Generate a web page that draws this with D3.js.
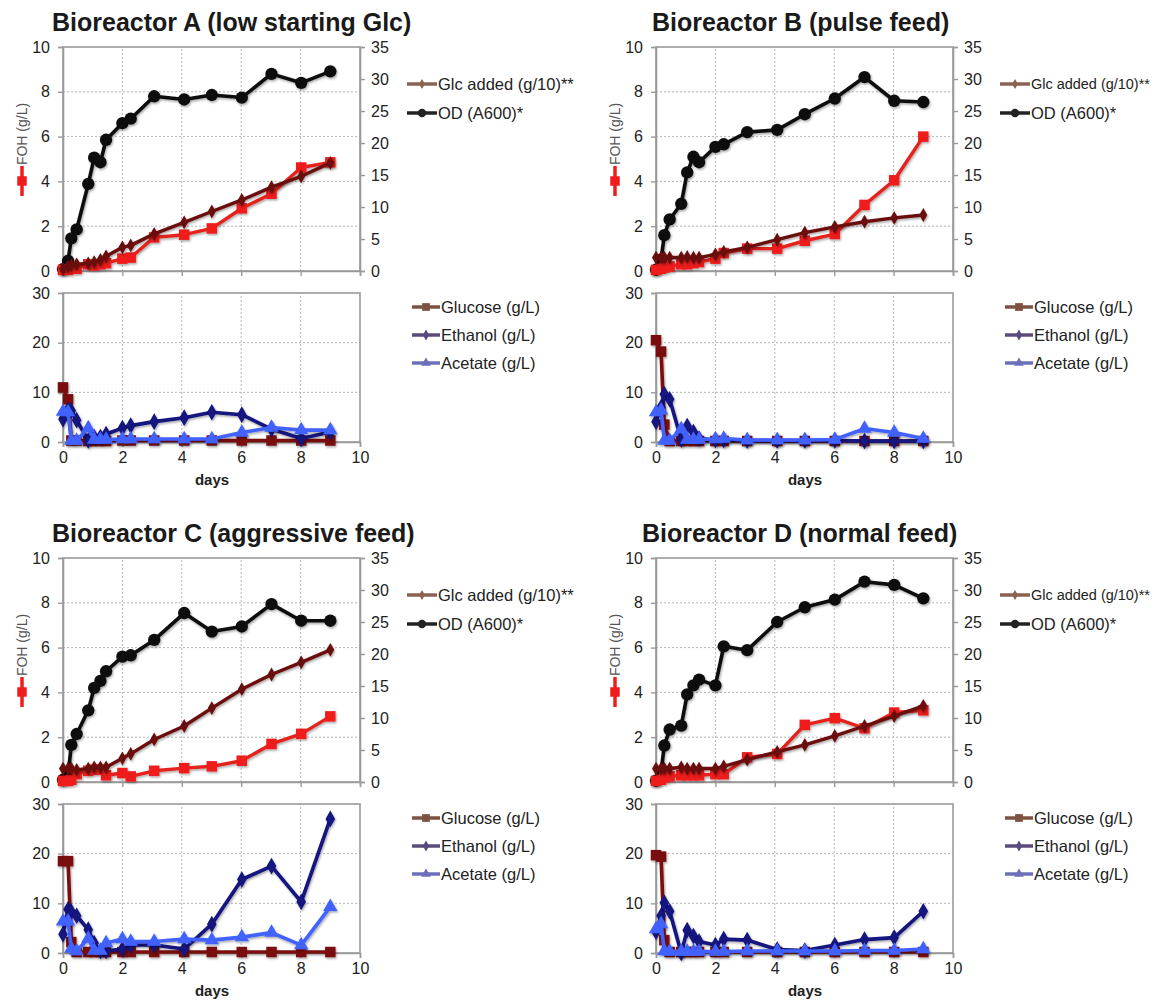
<!DOCTYPE html>
<html><head><meta charset="utf-8">
<script src="https://cdn.jsdelivr.net/npm/d3@7"></script>
<style>
body{margin:0;background:#fff;}
svg{font-family:"Liberation Sans",Arial,Helvetica,sans-serif;}
</style></head>
<body><svg id="c" width="1158" height="1000"></svg>
<script>
// ---------- data ----------
const titles = ["Bioreactor A (low starting Glc)","Bioreactor B (pulse feed)","Bioreactor C (aggressive feed)","Bioreactor D (normal feed)"];
const days = [0,0.17,0.28,0.46,0.85,1.05,1.26,1.45,2.0,2.28,3.07,4.08,5.01,6.02,7.02,8.02,9.0];
const leftTicks = [0,2,4,6,8,10];
const rightTicks = [0,5,10,15,20,25,30,35];
const lowerTicks = [0,10,20,30];
const dayTicks = [0,2,4,6,8,10];
const topLegend = ["Glc added (g/10)**","OD (A600)*"];
const bottomLegend = ["Glucose (g/L)","Ethanol (g/L)","Acetate (g/L)"];

// FOH (g/L), left axis
const fohA = [0.05,0.05,0.1,0.1,0.3,0.25,0.3,0.35,0.55,0.6,1.5,1.62,1.9,2.8,3.45,4.62,4.85];
const fohB = [0.05,0.1,0.15,0.2,0.3,0.3,0.35,0.4,0.55,0.8,1.0,1.0,1.35,1.65,2.95,4.05,6.0];
const fohC = [0.05,0.05,0.1,0.35,0.5,0.55,0.55,0.3,0.4,0.25,0.5,0.62,0.7,0.95,1.7,2.15,2.93];
const fohD = [0.05,0.1,0.2,0.25,0.3,0.3,0.3,0.3,0.35,0.35,1.1,1.25,2.55,2.85,2.4,3.1,3.2];
// Glc added (g/10), right axis
const glcAddedA = [0.35,0.7,0.9,1.05,1.2,1.4,1.75,2.3,3.7,4.0,5.8,7.6,9.3,11.1,13.1,14.8,16.9];
const glcAddedB = [2.1,2.1,2.1,2.1,2.1,2.2,2.1,2.1,2.6,3.0,3.7,4.9,6.0,6.9,7.7,8.3,8.75];
const glcAddedC = [2.1,2.1,2.1,1.9,2.1,2.3,2.3,2.3,3.7,4.4,6.65,8.75,11.55,14.5,16.8,18.7,20.65];
const glcAddedD = [2.1,2.1,2.1,2.1,2.3,2.1,2.1,2.1,2.1,2.45,3.5,4.7,5.8,7.2,8.75,10.3,11.9];
// OD (A600), right axis
const odA = [0.3,1.6,5.1,6.5,13.6,17.7,17.0,20.5,23.1,23.8,27.3,26.8,27.5,27.1,30.8,29.4,31.2];
const odB = [0.2,1.75,5.6,8.05,10.5,15.4,17.85,17.0,19.4,19.8,21.7,22.05,24.5,26.95,30.3,26.6,26.4];
const odC = [0.35,1.05,5.8,7.5,11.2,14.7,15.8,17.3,19.6,19.8,22.2,26.4,23.5,24.3,27.8,25.2,25.2];
const odD = [0.2,1.6,5.7,8.2,8.8,13.7,15.1,16.0,15.1,21.2,20.6,25.0,27.3,28.5,31.3,30.8,28.7];
// lower charts (g/L)
const glucoseA = [11,8.6,0.3,0.3,0.2,0.2,0.2,0.2,0.3,0.3,0.3,0.3,0.3,0.3,0.3,0.3,0.3];
const glucoseB = [20.5,18.2,3.5,0.2,0.2,0.2,0.2,0.2,0.2,0.2,0.2,0.2,0.2,0.2,0.2,0.2,0.2];
const glucoseC = [18.5,18.5,2.2,0.2,0.2,0.2,0.2,0.2,0.2,0.2,0.2,0.2,0.2,0.2,0.2,0.2,0.2];
const glucoseD = [19.7,19.4,2.6,0.2,0.2,0.2,0.2,0.2,0.2,0.2,0.2,0.2,0.2,0.2,0.2,0.2,0.2];
const ethanolA = [4.6,6.5,6.3,4.4,0.3,1.0,1.0,1.6,2.8,3.3,4.1,4.9,6.0,5.5,2.6,0.7,2.0];
const ethanolB = [4.1,7.0,9.6,8.6,0.5,3.2,2.0,0.7,0.4,0.4,0.3,0.3,0.3,0.3,0.2,0.2,0.2];
const ethanolC = [3.8,8.8,8.3,7.5,4.7,2.0,0.4,0.4,0.8,1.6,1.6,0.8,5.8,14.8,17.5,10.3,27.0];
const ethanolD = [4.3,7.5,10.1,8.4,0.0,4.6,3.4,2.3,1.6,2.8,2.6,0.7,0.5,1.6,2.7,3.1,8.4];
const acetateA = [6.1,6.0,0.3,0.3,2.8,0.5,0.5,0.5,0.6,0.6,0.6,0.6,0.6,1.9,2.9,2.4,2.4];
const acetateB = [6.0,6.4,0.3,0.3,2.6,0.5,0.5,0.5,0.6,0.7,0.4,0.4,0.4,0.5,2.7,1.9,0.7];
const acetateC = [6.4,6.4,0.9,0.4,2.9,0.5,0.5,2.0,2.8,2.3,2.3,2.8,2.6,3.2,4.1,1.6,9.3];
const acetateD = [4.8,5.8,0.4,0.3,0.3,0.3,0.3,0.3,0.3,0.3,0.4,0.4,0.4,0.4,0.5,0.5,0.8];

const panels = [
  {title:titles[0], foh:fohA, glc:glcAddedA, od:odA, glucose:glucoseA, ethanol:ethanolA, acetate:acetateA},
  {title:titles[1], foh:fohB, glc:glcAddedB, od:odB, glucose:glucoseB, ethanol:ethanolB, acetate:acetateB},
  {title:titles[2], foh:fohC, glc:glcAddedC, od:odC, glucose:glucoseC, ethanol:ethanolC, acetate:acetateC},
  {title:titles[3], foh:fohD, glc:glcAddedD, od:odD, glucose:glucoseD, ethanol:ethanolD, acetate:acetateD}
];
// layout (positions only)
const layout = [{ox:0,oy:0,tx:52},{ox:593,oy:0,tx:59},{ox:0,oy:511,tx:52},{ox:593,oy:511,tx:49}];
const W = 1158;

// ---------- drawing ----------
const svg = d3.select("#c");
const defs = svg.append("defs");
const f = defs.append("filter").attr("id","sh").attr("x","-20%").attr("y","-20%").attr("width","140%").attr("height","140%");
f.append("feDropShadow").attr("dx",1).attr("dy",1.5).attr("stdDeviation",1.2).attr("flood-color","#000").attr("flood-opacity",0.35);

const COL = {od:"#111111", glc:"#6b0d0d", foh:"#f01c1c", glucose:"#7a0a0a", ethanol:"#12127f", acetate:"#4262ff"};
const LEG = {glc:"#8a6252", od:"#222222", glucose:"#7d5242", ethanol:"#5a4b7c", acetate:"#6c70b8"};

const sym = {
  circle: d3.symbol().type(d3.symbolCircle),
  square: d3.symbol().type(d3.symbolSquare),
  diamond: d3.symbol().type(d3.symbolDiamond),
  triangle: d3.symbol().type(d3.symbolTriangle)
};

function series(g, x, y, vals, color, shape, size, width, lineColor){
  const pts = days.map((d,i)=>[d, vals[i]]);
  const gg = g.append("g").attr("filter","url(#sh)");
  gg.append("path").datum(pts)
    .attr("fill","none").attr("stroke", lineColor||color).attr("stroke-width",width)
    .attr("stroke-linejoin","round")
    .attr("d", d3.line().x(p=>x(p[0])).y(p=>y(p[1])));
  gg.selectAll("path.m").data(pts).enter().append("path").attr("class","m")
    .attr("d", sym[shape].size(size)())
    .attr("transform", p=>`translate(${x(p[0])},${y(p[1])})`)
    .attr("fill", color);
}

function frame(g, x, y0, y1){
  g.append("rect").attr("x",x(0)).attr("y",y1).attr("width",x(10)-x(0)).attr("height",y0-y1)
    .attr("fill","none").attr("stroke","#9a9a9a").attr("stroke-width",1.6);
}

function grid(g, x, y, yTicks, yr){
  g.selectAll("line.gx").data(dayTicks.slice(1,-1)).enter().append("line")
    .attr("x1",d=>x(d)).attr("x2",d=>x(d)).attr("y1",y(yr[0])).attr("y2",y(yr[1]))
    .attr("stroke","#b5b5b5").attr("stroke-width",1).attr("stroke-dasharray","2,2");
  g.selectAll("line.gy").data(yTicks.slice(1,-1)).enter().append("line")
    .attr("x1",x(0)).attr("x2",x(10)).attr("y1",d=>y(d)).attr("y2",d=>y(d))
    .attr("stroke","#b5b5b5").attr("stroke-width",1).attr("stroke-dasharray","2,2");
}

function styleAxis(a){
  a.select(".domain").attr("stroke","#9a9a9a").attr("stroke-width",1.6);
  a.selectAll(".tick line").attr("stroke","#9a9a9a").attr("stroke-width",1.4);
  a.selectAll(".tick text").attr("fill","#222").attr("font-size",16);
}

const LEGFONT = 16.5;
function fitText(t, absX){
  const w = t.node().getComputedTextLength();
  const maxW = W - 8 - absX;
  if (w > maxW) t.attr("font-size", (LEGFONT * maxW / w).toFixed(2));
}

panels.forEach((p,pi)=>{
  const L = layout[pi];
  const g = svg.append("g").attr("transform",`translate(${L.ox},${L.oy})`);
  const x = d3.scaleLinear().domain([0,10]).range([63,360]);
  const yL = d3.scaleLinear().domain([0,10]).range([271,47]);
  const yR = d3.scaleLinear().domain([0,35]).range([271,47]);
  const yB = d3.scaleLinear().domain([0,30]).range([442,293]);

  // title
  g.append("text").attr("x",L.tx).attr("y",31)
    .attr("font-size",25).attr("font-weight","bold").attr("fill","#1a1a1a").text(p.title);

  // ---- upper chart ----
  grid(g, x, yL, leftTicks, [0,10]);
  frame(g, x, 271, 47);
  const aL = g.append("g").attr("transform","translate(63,0)")
    .call(d3.axisLeft(yL).tickValues(leftTicks).tickSize(5).tickPadding(8));
  styleAxis(aL);
  const aR = g.append("g").attr("transform","translate(360,0)")
    .call(d3.axisRight(yR).tickValues(rightTicks).tickSize(5).tickPadding(6));
  styleAxis(aR);
  const aX = g.append("g").attr("transform","translate(0,271)")
    .call(d3.axisBottom(x).tickValues(dayTicks).tickSize(5).tickFormat(""));
  styleAxis(aX);

  series(g, x, yR, p.od, COL.od, "circle", 120, 3.6);
  series(g, x, yL, p.foh, COL.foh, "square", 110, 3.4, "#e4241f");
  series(g, x, yR, p.glc, COL.glc, "diamond", 55, 3.4);

  // FOH axis title with series key
  const tl = g.append("g").attr("transform","translate(27,150) rotate(-90)");
  tl.append("text").attr("x",16).attr("y",0).attr("text-anchor","middle")
    .attr("font-size",14).attr("fill","#555").text("FOH (g/L)");
  tl.append("line").attr("x1",-46).attr("x2",-16).attr("y1",-5).attr("y2",-5)
    .attr("stroke",COL.foh).attr("stroke-width",3.5);
  tl.append("path").attr("d",sym.square.size(90)()).attr("transform","translate(-31,-5)").attr("fill",COL.foh);

  // upper legend
  const lg = g.append("g");
  const legShapes = [["glc","diamond",30],["od","circle",55]];
  topLegend.forEach((t,i)=>{
    const yy = 84 + i*29;
    lg.append("line").attr("x1",407).attr("x2",437).attr("y1",yy).attr("y2",yy)
      .attr("stroke",LEG[legShapes[i][0]]).attr("stroke-width",3.5);
    lg.append("path").attr("d",sym[legShapes[i][1]].size(legShapes[i][2])())
      .attr("transform",`translate(422,${yy})`).attr("fill",LEG[legShapes[i][0]]);
    const tx = lg.append("text").attr("x",438).attr("y",yy).attr("dy","0.35em")
      .attr("font-size",LEGFONT).attr("fill","#222").text(t);
    fitText(tx, L.ox + 438);
  });

  // ---- lower chart ----
  grid(g, x, yB, lowerTicks, [0,30]);
  frame(g, x, 442, 293);
  const bL = g.append("g").attr("transform","translate(63,0)")
    .call(d3.axisLeft(yB).tickValues(lowerTicks).tickSize(5).tickPadding(8));
  styleAxis(bL);
  const bX = g.append("g").attr("transform","translate(0,442)")
    .call(d3.axisBottom(x).tickValues(dayTicks).tickSize(5).tickPadding(5));
  styleAxis(bX);
  g.append("text").attr("x",212).attr("y",485).attr("text-anchor","middle")
    .attr("font-size",15).attr("font-weight","bold").attr("fill","#222").text("days");

  series(g, x, yB, p.glucose, COL.glucose, "square", 110, 3.6);
  series(g, x, yB, p.ethanol, COL.ethanol, "diamond", 80, 3.6);
  series(g, x, yB, p.acetate, COL.acetate, "triangle", 90, 3.6);

  const bl = g.append("g");
  const bShapes = [["glucose","square",60],["ethanol","diamond",35],["acetate","triangle",40]];
  bottomLegend.forEach((t,i)=>{
    const yy = 307 + i*28;
    bl.append("line").attr("x1",412).attr("x2",440).attr("y1",yy).attr("y2",yy)
      .attr("stroke",LEG[bShapes[i][0]]).attr("stroke-width",3.5);
    bl.append("path").attr("d",sym[bShapes[i][1]].size(bShapes[i][2])())
      .attr("transform",`translate(426,${yy})`).attr("fill",LEG[bShapes[i][0]]);
    const tx = bl.append("text").attr("x",441).attr("y",yy).attr("dy","0.35em")
      .attr("font-size",LEGFONT).attr("fill","#222").text(t);
    fitText(tx, L.ox + 441);
  });
});
</script>
</body></html>
